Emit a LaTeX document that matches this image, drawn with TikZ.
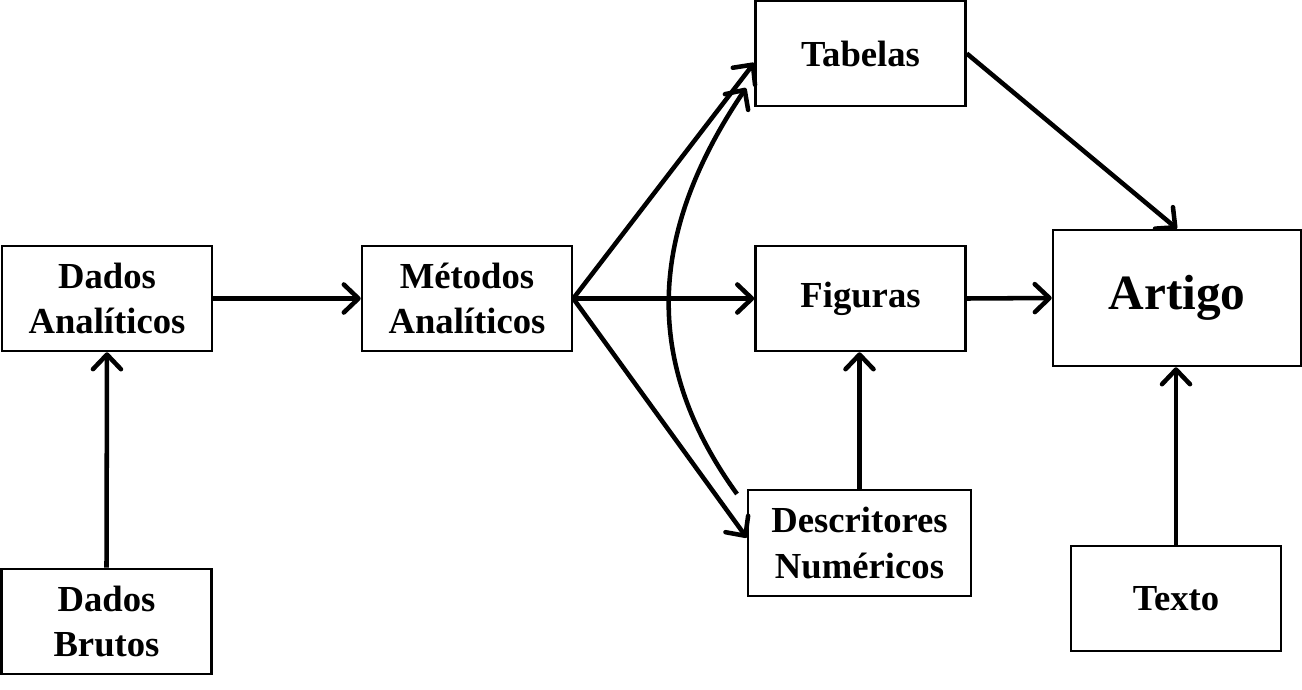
\documentclass[tikz,border=0pt]{standalone}
\usepackage{fontspec}
\setmainfont{Liberation Serif}
\usetikzlibrary{arrows.meta}

\begin{document}
\begin{tikzpicture}[x=0.75pt,y=0.75pt,yscale=-1,xscale=1,
  box/.style={draw,line width=1.9pt,align=center,inner sep=0.75pt,
    minimum width=157.5pt,minimum height=78.75pt,
    font=\fontsize{27.5}{34}\selectfont\bfseries},
  link/.style={line width=3.4pt,-{Straight Barb[length=11pt,width=21pt,line width=3.4pt,round]}}]
%set diagram size to that of the picture
\useasboundingbox (0,0) rectangle (1302,689);

%Shape: Rectangle [Dados Analiticos]
\node [box] (dadosAn) at (107,298.5) {Dados\\Analíticos};
%Shape: Rectangle [Dados Brutos]
\node [box] (dadosBr) at (106.5,621.5) {Dados\\Brutos};
%Shape: Rectangle [Metodos Analiticos]
\node [box] (metodos) at (467,298.5) {Métodos\\Analíticos};
%Shape: Rectangle [Tabelas]
\node [box] (tabelas) at (860.5,53.5) {Tabelas};
%Shape: Rectangle [Figuras]
\node [box] (figuras) at (860.5,298.5) {Figuras};
%Shape: Rectangle [Descritores Numericos]
\node [box,minimum width=167.25pt,minimum height=79.5pt] (descritores) at (859.5,543) {Descritores\\Numéricos};
%Shape: Rectangle [Artigo]
\node [box,minimum width=186pt,minimum height=102pt,font=\fontsize{37}{44}\selectfont\bfseries] (artigo) at (1177,298) {Artigo};
%Shape: Rectangle [Texto]
\node [box] (texto) at (1176,598.5) {Texto};

%free ends of the curved arrow
\coordinate (curveStart) at (737,494);
\coordinate (curveEnd) at (746,88);

%Straight Lines
\draw [link] (dadosBr.north) -- (dadosAn.south);
\draw [link] (dadosAn.east) -- (metodos.west);
\draw [link] (metodos.east) -- ([yshift=7pt]tabelas.west);
\draw [link] (metodos.east) -- (figuras.west);
\draw [link] (metodos.east) -- ([yshift=-4pt]descritores.west);
\draw [link] (descritores.north) -- (descritores.north |- figuras.south);
\draw [link] (tabelas.east) -- (artigo.north);
\draw [link] (figuras.east) -- (artigo.west);
\draw [link] (texto.north) -- (texto.north |- artigo.south);
%Curve Lines
\draw [link] (curveStart) .. controls (640,360) and (650,230) .. (curveEnd);
\end{tikzpicture}
\end{document}
